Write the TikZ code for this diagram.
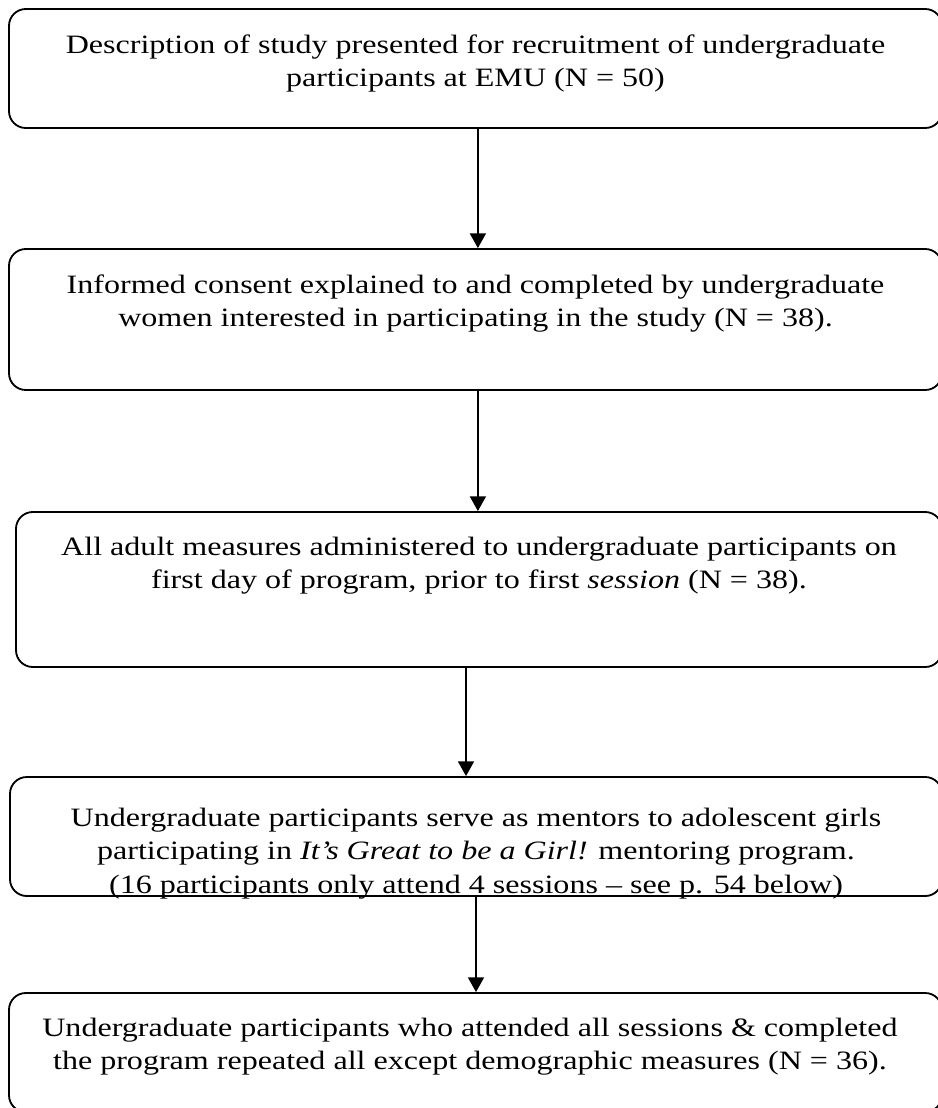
\documentclass[tikz,border=0pt]{standalone}
\usepackage{fontspec}
\setmainfont{Liberation Serif}[FakeStretch=1.21]
\usetikzlibrary{arrows.meta}
\usetikzlibrary{positioning}
\pgfdeclarelayer{edgelayer}
\pgfdeclarelayer{nodelayer}
\pgfsetlayers{edgelayer,main,nodelayer}
\tikzstyle{none}=[inner sep=0pt]
\tikzstyle{box}=[rectangle, rounded corners=0.42cm, draw, line width=1.3pt]
\tikzstyle{txt}=[inner sep=0pt, align=center, anchor=north, font=\fontsize{18.85}{23.6}\selectfont]
\tikzstyle{flow}=[line width=1.3pt, -{Triangle[length=0.37cm, width=0.4cm]}]

\begin{document}
\begin{tikzpicture}
    \useasboundingbox (0, 0) rectangle (23.425, -27.7);
    \begin{pgfonlayer}{main}
	\node [style=box, minimum width=23.325cm, minimum height=2.975cm] (0) at (11.8875, -1.7125) {};
	\node [style=box, minimum width=23.325cm, minimum height=3.525cm] (1) at (11.8875, -7.9875) {};
	\node [style=box, minimum width=23.15cm, minimum height=3.875cm] (2) at (11.975, -14.7375) {};
	\node [style=box, minimum width=23.3cm, minimum height=2.975cm] (3) at (11.9, -20.9125) {};
	\node [style=box, minimum width=23.325cm, minimum height=2.975cm] (4) at (11.8875, -26.3125) {};
    \end{pgfonlayer}
    \begin{pgfonlayer}{nodelayer}
	\node [style=txt] (10) at ([yshift=-0.65cm]0.north) {Description of study presented for recruitment of undergraduate\\participants at EMU (N = 50)};
	\node [style=txt] (11) at ([yshift=-0.65cm]1.north) {Informed consent explained to and completed by undergraduate\\women interested in participating in the study (N = 38).};
	\node [style=txt] (12) at ([yshift=-0.65cm]2.north) {All adult measures administered to undergraduate participants on\\first day of program, prior to first \textit{session} (N = 38).};
	\node [style=txt] (13) at ([yshift=-0.8cm]3.north) {Undergraduate participants serve as mentors to adolescent girls\\participating in \textit{It’s Great to be a Girl!} mentoring program.\\(16 participants only attend 4 sessions – see p. 54 below)};
	\node [style=txt] (14) at ([xshift=-0.14cm, yshift=-0.65cm]4.north) {Undergraduate participants who attended all sessions \& completed\\the program repeated all except demographic measures (N = 36).};
    \end{pgfonlayer}
    \begin{pgfonlayer}{edgelayer}
	\draw [style=flow] ([xshift=0.06cm]0.south) to ([xshift=0.06cm]0.south |- 1.north);
	\draw [style=flow] ([xshift=0.06cm]1.south) to ([xshift=0.06cm]1.south |- 2.north);
	\draw [style=flow] ([xshift=-0.325cm]2.south) to ([xshift=-0.325cm]2.south |- 3.north);
	\draw [style=flow] (3.south) to (3.south |- 4.north);
    \end{pgfonlayer}
\end{tikzpicture}
\end{document}
